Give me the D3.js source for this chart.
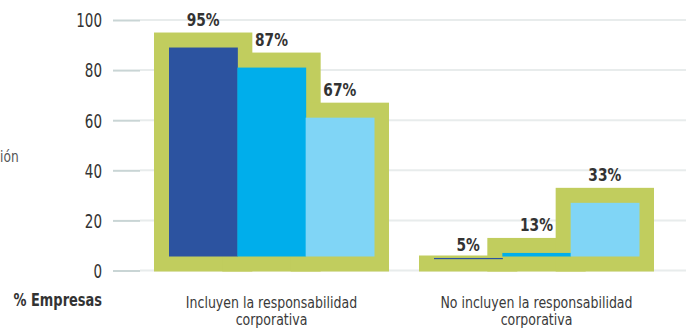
<!DOCTYPE html>
<html>
<head>
<meta charset="utf-8">
<script src="https://cdn.jsdelivr.net/npm/d3@7"></script>
<style>
  html, body { margin: 0; padding: 0; background: #fff; }
  svg { display: block; }
  text { font-family: "DejaVu Sans", sans-serif; font-stretch: condensed; }
</style>
</head>
<body>
<svg id="chart" width="686" height="333"></svg>
<script>
// Data
const categories = [
  ["Incluyen la responsabilidad", "corporativa"],
  ["No incluyen la responsabilidad", "corporativa"]
];
const series = ["A", "B", "C"];
const seriesColors = ["#2c53a0", "#00aeeb", "#80d5f6"];
const values = [
  [95, 87, 67],
  [5, 13, 33]
];
const yTicks = [0, 20, 40, 60, 80, 100];

const W = 686, H = 333;
const svg = d3.select("#chart");

// Squeeze glyphs horizontally to get a narrow, condensed typeface look
function condense(sel, factor) {
  sel.each(function () {
    const w = this.getComputedTextLength();
    d3.select(this).attr("textLength", w * factor).attr("lengthAdjust", "spacingAndGlyphs");
  });
}

const catKeys = categories.map(c => c.join(" "));
const x0 = d3.scaleBand().domain(catKeys).range([169, 639]).paddingInner(0.2264).paddingOuter(0);
const x1 = d3.scaleBand().domain(series).range([0, x0.bandwidth()]).padding(0);
const y = d3.scaleLinear().domain([0, 100]).range([270.5, 20]);

const frame = 15;          // width of the green frame around each bar
const green = "#c1cd5e";

// Gridlines
svg.append("g").selectAll("line").data(yTicks).join("line")
  .attr("x1", 140).attr("x2", W)
  .attr("y1", d => y(d)).attr("y2", d => y(d))
  .attr("stroke", "#e8ecec").attr("stroke-width", 2);

// Y axis with short tick marks
const yAxis = d3.axisLeft(y).tickValues(yTicks).tickSize(27).tickPadding(11).tickFormat(d3.format("d"));
const ax = svg.append("g").attr("transform", "translate(140,0)").call(yAxis);
ax.select(".domain").remove();
ax.selectAll(".tick line").attr("stroke", "#c9d5d5").attr("stroke-width", 2);
ax.selectAll(".tick text").attr("fill", "#333").attr("font-size", 19)
  .attr("font-family", null).attr("dy", "0.36em");
condense(ax.selectAll(".tick text"), 0.79);

// Bars
const groups = svg.append("g").selectAll("g").data(values).join("g")
  .attr("transform", (d, i) => `translate(${x0(catKeys[i])},0)`);

// Green frames first, so the coloured fills sit on top
groups.selectAll("rect.frame").data(d => d).join("rect")
  .attr("class", "frame")
  .attr("x", (d, i) => x1(series[i]) - frame)
  .attr("width", x1.bandwidth() + 2 * frame)
  .attr("y", d => Math.min(y(d), y(0) - 15))
  .attr("height", d => y(0) + 1 - Math.min(y(d), y(0) - 15))
  .attr("fill", green);

groups.selectAll("rect.fill").data(d => d).join("rect")
  .attr("class", "fill")
  .attr("x", (d, i) => x1(series[i]))
  .attr("width", x1.bandwidth() + 0.5)
  .attr("y", d => {
    const top = y(d) + frame, bottom = y(0) - 14;
    return bottom - top < 1.2 ? y(d) : top;
  })
  .attr("height", d => {
    const top = y(d) + frame, bottom = y(0) - 14;
    return bottom - top < 1.2 ? 1.2 : bottom - top;
  })
  .attr("fill", (d, i) => seriesColors[i]);

// Value labels
const vals = groups.selectAll("text.val").data(d => d).join("text")
  .attr("class", "val")
  .attr("x", (d, i) => x1(series[i]) + x1.bandwidth() / 2)
  .attr("y", d => y(d) - 6.5)
  .attr("text-anchor", "middle")
  .attr("font-size", 18).attr("font-weight", "bold").attr("fill", "#333")
  .text(d => d + "%");
condense(vals, 0.85);

// Category labels, two lines each
const catLab = svg.append("g").selectAll("text").data(categories).join("text")
  .attr("x", (d, i) => x0(catKeys[i]) + x0.bandwidth() / 2)
  .attr("y", 307.5)
  .attr("text-anchor", "middle")
  .attr("font-size", 15.5).attr("fill", "#3a3a3a");
const catLines = catLab.selectAll("tspan").data(d => d).join("tspan")
  .attr("x", function () { return d3.select(this.parentNode).attr("x"); })
  .attr("dy", (d, i) => i === 0 ? 0 : 17.5)
  .text(d => d);
condense(catLines, 0.9);

// Axis caption and side note
const cap = svg.append("text").attr("x", 102).attr("y", 305.5).attr("text-anchor", "end")
  .attr("font-size", 18).attr("font-weight", "bold").attr("fill", "#333")
  .text("% Empresas");
condense(cap, 0.8);
const note = svg.append("text").attr("x", 0).attr("y", 162)
  .attr("font-size", 16).attr("fill", "#555")
  .text("ión");
condense(note, 0.85);
</script>
</body>
</html>
